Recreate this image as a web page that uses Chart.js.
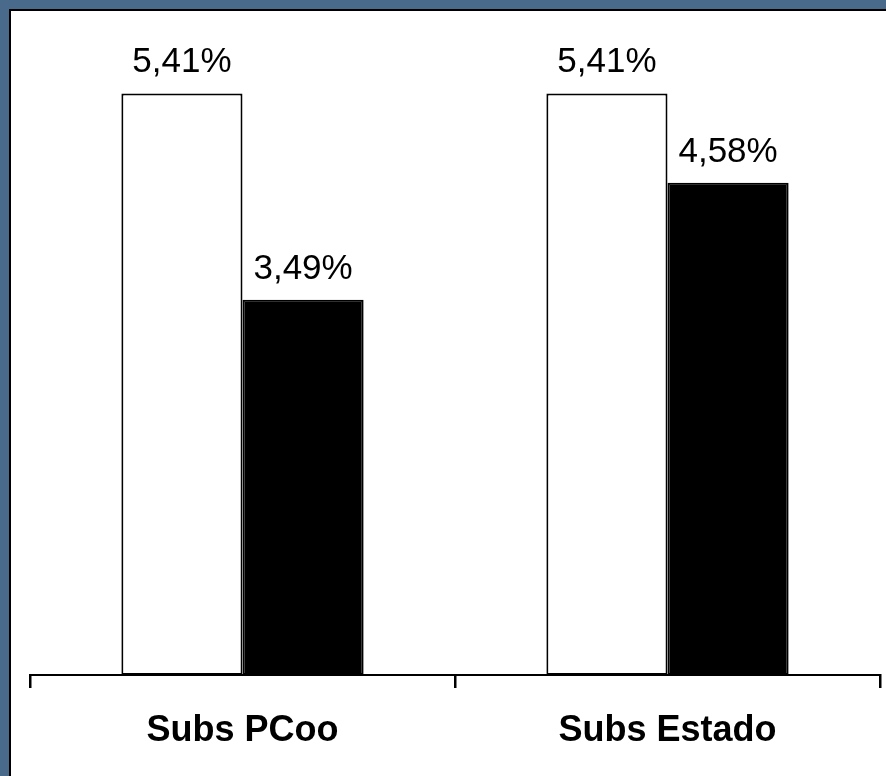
<!DOCTYPE html>
<html>
<head>
<meta charset="utf-8">
<script src="https://cdn.jsdelivr.net/npm/chart.js@4"></script>
<style>
    html, body { margin: 0; padding: 0; }
    body { width: 886px; height: 776px; background: #4a6a8c; overflow: hidden; }
    #frame {
        position: absolute; left: 9px; top: 9px;
        width: 875px; height: 765px;
        background: #fff;
        border-left: 2px solid #000; border-top: 2px solid #000;
    }
    #chart { display: block; }
</style>
</head>
<body>
<div id="frame"><canvas id="chart" width="875" height="765"></canvas></div>
<script>
const categories = ['Subs PCoo', 'Subs Estado'];
const seriesWhite = [5.41, 5.41];
const seriesBlack = [3.49, 4.58];
const yMin = 0;
const yMax = 6;

const fmt = v => v.toFixed(2).replace('.', ',') + '%';

// draws the value above each bar
const valueLabels = {
    id: 'valueLabels',
    afterDatasetsDraw(chart) {
        const ctx = chart.ctx;
        ctx.save();
        ctx.font = '35px "Liberation Sans", Arial, sans-serif';
        ctx.fillStyle = '#000';
        ctx.textAlign = 'center';
        ctx.textBaseline = 'alphabetic';
        chart.data.datasets.forEach((ds, i) => {
            chart.getDatasetMeta(i).data.forEach((bar, j) => {
                ctx.fillText(fmt(ds.data[j]), bar.x, bar.y - 21);
            });
        });
        ctx.restore();
    }
};

new Chart(document.getElementById('chart'), {
    type: 'bar',
    data: {
        labels: categories,
        datasets: [
            { data: seriesWhite, backgroundColor: '#fff', borderColor: '#000', borderWidth: 2, borderSkipped: false },
            { data: seriesBlack, backgroundColor: '#000', borderColor: '#000', borderWidth: 2, borderSkipped: false }
        ]
    },
    options: {
        responsive: false,
        animation: false,
        layout: { padding: { left: 19, right: 6, top: 19, bottom: 0 } },
        plugins: { legend: { display: false }, tooltip: { enabled: false } },
        datasets: { bar: { categoryPercentage: 0.57, barPercentage: 1 } },
        scales: {
            x: {
                grid: { drawOnChartArea: false, drawTicks: true, tickLength: 13, color: '#000', lineWidth: 2.5 },
                border: { color: '#000', width: 2 },
                ticks: { color: '#000', padding: 21, font: { family: '"Liberation Sans", Arial, sans-serif', size: 36, weight: 'bold' } },
                afterFit(scale) { scale.height = 101; }
            },
            y: { display: false, min: yMin, max: yMax }
        }
    },
    plugins: [valueLabels]
});
</script>
</body>
</html>
